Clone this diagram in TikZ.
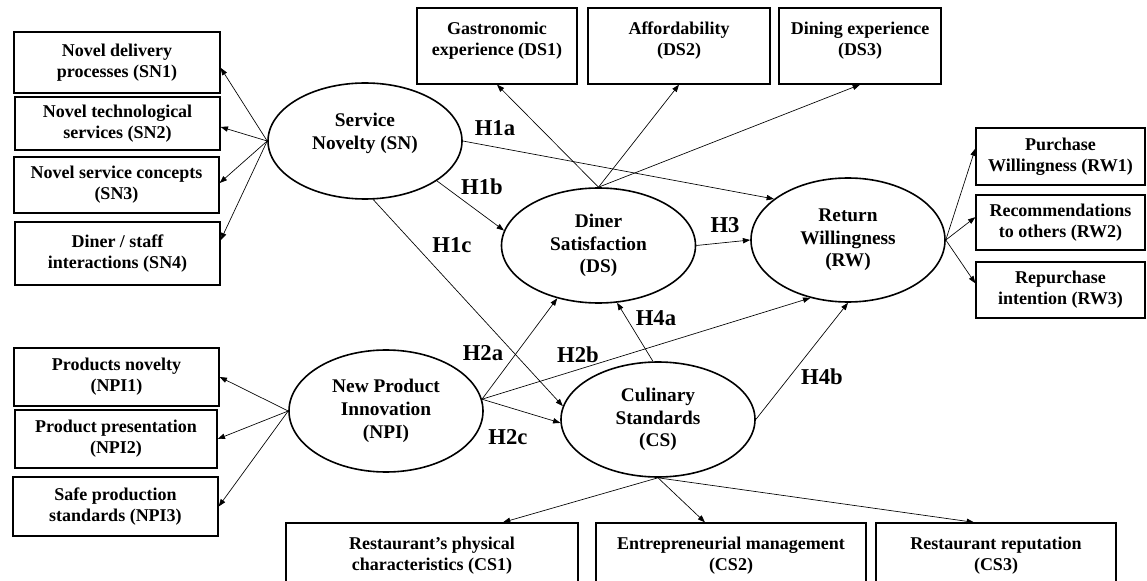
\documentclass[tikz,border=0pt]{standalone}
\usepackage{fontspec}
\setmainfont{Liberation Serif}
\usetikzlibrary{arrows.meta,shapes.geometric}

\begin{document}
\begin{tikzpicture}[x=0.75pt,y=-0.75pt,
    item box/.style 2 args={draw=black,line width=1pt,rectangle,align=center,inner sep=2pt,minimum width=#1,minimum height=#2,font=\bfseries\fontsize{13.5}{15.75}\selectfont},
    top item/.style={text depth=10.5pt},
    construct/.style={draw=black,line width=1.2pt,ellipse,align=center,inner sep=0pt,minimum width=145.5pt,minimum height=#1,font=\bfseries\fontsize{14.5}{17}\selectfont},
    path label/.style={font=\bfseries\fontsize{17}{20}\selectfont},
    link/.style={line width=0.5pt,-{Triangle[length=5.5pt,width=4pt]}}]
    \useasboundingbox (0,0) rectangle (1147,581);

    \node[construct=87pt,text depth=15pt] (sn) at (365,141) {Service\\Novelty (SN)};
    \node[construct=86.25pt] (ds) at (598.5,245.5) {Diner\\Satisfaction\\(DS)};
    \node[construct=93pt] (rw) at (848,240) {Return\\Willingness\\(RW)};
    \node[construct=91.5pt] (npi) at (386,411) {New Product\\Innovation\\(NPI)};
    \node[construct=86.25pt] (cs) at (658,419.5) {Culinary\\Standards\\(CS)};

    \node[item box={154.5pt}{45.75pt}] (sn1) at (117,62.5) {Novel delivery\\processes (SN1)};
    \node[item box={153.75pt}{39.75pt}] (sn2) at (117.5,123.5) {Novel technological\\services (SN2)};
    \node[item box={153.75pt}{42pt}] (sn3) at (116.5,185) {Novel service concepts\\(SN3)};
    \node[item box={153.75pt}{47.25pt}] (sn4) at (117.5,253.5) {Diner / staff\\interactions (SN4)};

    \node[item box={153.75pt}{43.5pt}] (npi1) at (116.5,377) {Products novelty\\(NPI1)};
    \node[item box={151.5pt}{43.5pt}] (npi2) at (116,439) {Product presentation\\(NPI2)};
    \node[item box={153.75pt}{44.25pt}] (npi3) at (115.5,506.5) {Safe production\\standards (NPI3)};

    \node[item box={120pt}{57pt},top item] (ds1) at (497,46) {Gastronomic\\experience (DS1)};
    \node[item box={136.5pt}{57pt},top item] (ds2) at (679,46) {Affordability\\(DS2)};
    \node[item box={121.5pt}{57pt},top item] (ds3) at (860,46) {Dining experience\\(DS3)};

    \node[item box={126.75pt}{42.75pt}] (rw1) at (1060.5,156.5) {Purchase\\Willingness (RW1)};
    \node[item box={126.75pt}{41.25pt}] (rw2) at (1060.5,222.5) {Recommendations\\to others (RW2)};
    \node[item box={126.75pt}{42pt}] (rw3) at (1060.5,290) {Repurchase\\intention (RW3)};

    \node[item box={219pt}{57pt},top item] (cs1) at (432,561) {Restaurant's physical\\characteristics (CS1)};
    \node[item box={202.5pt}{57pt},top item] (cs2) at (731,561) {Entrepreneurial management\\(CS2)};
    \node[item box={180pt}{57pt},top item] (cs3) at (996,561) {Restaurant reputation\\(CS3)};

    \draw[link] (sn.west) -- ([yshift=-4pt]sn1.east);
    \draw[link] (sn.west) -- ([yshift=-2.6pt]sn2.east);
    \draw[link] (sn.west) -- ([yshift=1.5pt]sn3.east);
    \draw[link] (sn.west) -- ([yshift=10pt]sn4.east);

    \draw[link] (npi.west) -- (npi1.east);
    \draw[link] (npi.west) -- (npi2.east);
    \draw[link] (npi.west) -- (npi3.east);

    \draw[link] (ds.north) -- (ds1.south);
    \draw[link] (ds.north) -- (ds2.south);
    \draw[link] (ds.north) -- (ds3.south);

    \draw[link] (rw.east) -- ([yshift=6pt]rw1.west);
    \draw[link] (rw.east) -- ([yshift=4pt]rw2.west);
    \draw[link] (rw.east) -- ([yshift=5pt]rw3.west);

    \draw[link] (cs.south) -- ([xshift=53.25pt]cs1.north);
    \draw[link] (cs.south) -- ([xshift=-19.5pt]cs2.north);
    \draw[link] (cs.south) -- ([xshift=-16.5pt]cs3.north);

    \draw[link] (sn.east) -- (rw.151);
    \draw[link] (sn.331) -- (ds.171);
    \draw[link] (sn.278) -- (cs.172);
    \draw[link] (npi.7) -- (ds.232);
    \draw[link] (npi.7) -- (rw.237);
    \draw[link] (npi.7) -- (cs.182);
    \draw[link] (ds.east) -- (rw.west);
    \draw[link] (cs.95) -- (ds.288);
    \draw[link] (cs.east) -- (rw.south);

    \node[path label] (h1a) at (495,128) {H1a};
    \node[path label] (h1b) at (482,187) {H1b};
    \node[path label] (h1c) at (452,245) {H1c};
    \node[path label] (h2a) at (483,353) {H2a};
    \node[path label] (h2b) at (578,355) {H2b};
    \node[path label] (h2c) at (508,437) {H2c};
    \node[path label] (h3) at (725,225) {H3};
    \node[path label] (h4a) at (656,318) {H4a};
    \node[path label] (h4b) at (822,377) {H4b};
\end{tikzpicture}
\end{document}
